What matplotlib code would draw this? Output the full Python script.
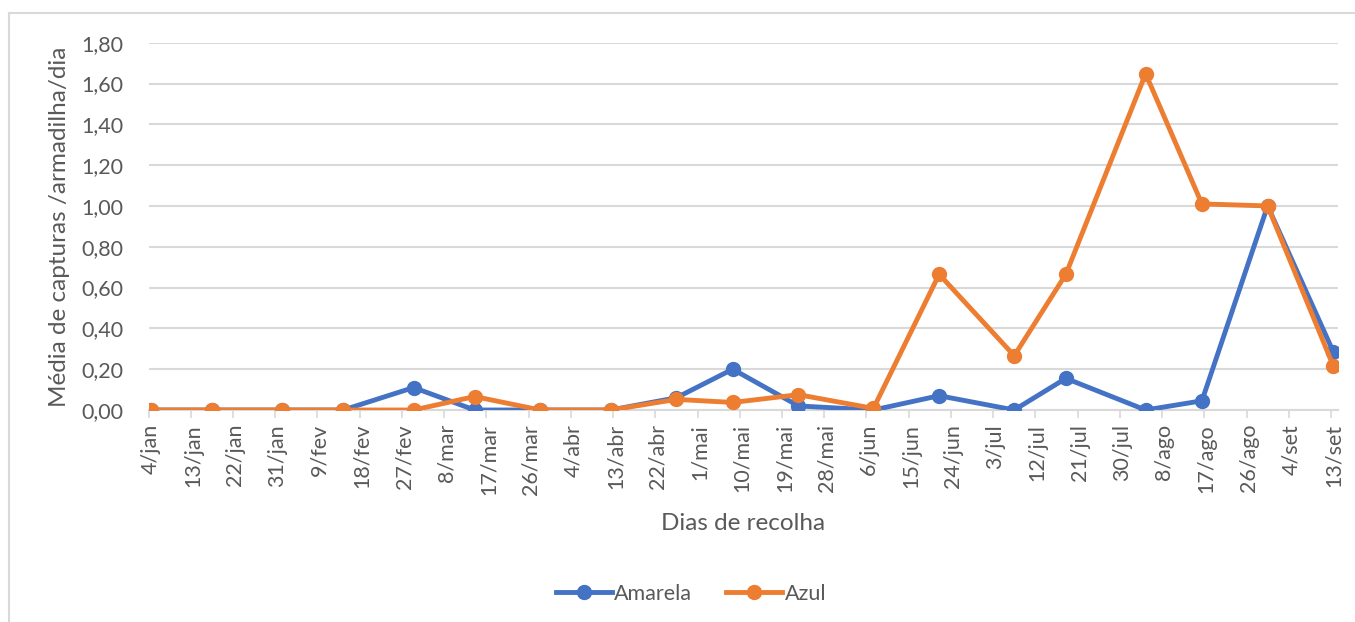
import datetime as dt
import matplotlib
matplotlib.use('Agg')
import matplotlib.pyplot as plt
import matplotlib.dates as mdates
from matplotlib.lines import Line2D

# datas de recolha (ano nao bissexto)
dias = ['2019-01-04', '2019-01-17', '2019-02-01', '2019-02-14', '2019-03-01',
        '2019-03-14', '2019-03-28', '2019-04-12', '2019-04-26', '2019-05-08',
        '2019-05-22', '2019-06-07', '2019-06-21', '2019-07-07', '2019-07-18',
        '2019-08-04', '2019-08-16', '2019-08-30', '2019-09-13']
amarela = [0, 0, 0, 0, 0.11, 0, 0, 0, 0.06, 0.20,
           0.02, 0, 0.07, 0, 0.155, 0, 0.045, 1.00, 0.285]
azul = [0, 0, 0, 0, 0, 0.066, 0, 0, 0.052, 0.037,
        0.075, 0.008, 0.665, 0.266, 0.665, 1.648, 1.01, 1.00, 0.216]

tick_labels = ['4/jan', '13/jan', '22/jan', '31/jan', '9/fev', '18/fev', '27/fev',
               '8/mar', '17/mar', '26/mar', '4/abr', '13/abr', '22/abr', '1/mai',
               '10/mai', '19/mai', '28/mai', '6/jun', '15/jun', '24/jun', '3/jul',
               '12/jul', '21/jul', '30/jul', '8/ago', '17/ago', '26/ago', '4/set',
               '13/set']
y_ticks = [0, 0.2, 0.4, 0.6, 0.8, 1.0, 1.2, 1.4, 1.6, 1.8]

plt.rcParams['font.family'] = ['Lato', 'DejaVu Sans']
cinza = '#595959'

x = mdates.date2num([dt.datetime.strptime(d, '%Y-%m-%d') for d in dias])
t0 = x[0]
ticks = [t0 + 9 * i for i in range(len(tick_labels))]

fig = plt.figure(figsize=(13.55, 6.22), dpi=100)
ax = fig.add_axes([148.5 / 1355, 1 - 410 / 622, (1338 - 148.5) / 1355, (410 - 42.7) / 622])

ax.plot(x, amarela, color='#4472C4', lw=3.5, marker='o', ms=10, label='Amarela', zorder=3)
ax.plot(x, azul, color='#ED7D31', lw=3.5, marker='o', ms=10, label='Azul', zorder=4)

ax.set_xlim(t0 - 0.5, ticks[-1] + 1.0)
ax.set_ylim(0, 1.8)
ax.set_yticks(y_ticks)
ax.yaxis.set_major_formatter(plt.FuncFormatter(lambda v, p: ('%.2f' % v).replace('.', ',')))
ax.set_xticks(ticks)
ax.set_xticklabels(tick_labels, rotation=90)
ax.set_xticks([t - 0.5 for t in ticks], minor=True)
ax.tick_params(axis='x', which='major', length=0, pad=10, labelsize=15.5, labelcolor=cinza)
ax.tick_params(axis='x', which='minor', length=6, width=1.2, color='#D9D9D9')
ax.tick_params(axis='y', length=0, pad=18, labelsize=15.5, labelcolor=cinza)

ax.grid(axis='y', color='#D9D9D9', lw=1.5)
ax.set_axisbelow(True)
for s in ['top', 'right', 'left']:
    ax.spines[s].set_visible(False)
ax.spines['bottom'].set_color('#D9D9D9')
ax.spines['bottom'].set_linewidth(1.5)
ax.spines['bottom'].set_zorder(1)

ax.set_ylabel('Média de capturas /armadilha/dia', fontsize=17.5, color=cinza, labelpad=8)
fig.text(743 / 1355, 1 - 523 / 622, 'Dias de recolha', fontsize=17.5, color=cinza,
         ha='center', va='center')

fig.legend(loc='center', bbox_to_anchor=(691 / 1355, 1 - 594 / 622), ncol=2, frameon=False,
           fontsize=15.5, labelcolor=cinza, handlelength=2.6, handletextpad=0.1,
           columnspacing=1.6)

# moldura do grafico
fig.add_artist(Line2D([9 / 1355, 1], [1 - 13 / 622, 1 - 13 / 622], color='#D9D9D9', lw=1.5))
fig.add_artist(Line2D([9 / 1355, 9 / 1355], [0, 1 - 13 / 622], color='#D9D9D9', lw=1.5))

fig.savefig('out.png', dpi=100, facecolor='white')
